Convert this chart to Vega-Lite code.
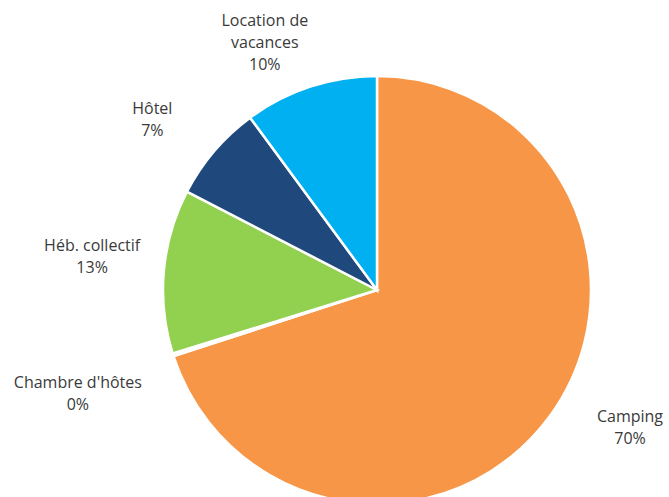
{
  "$schema": "https://vega.github.io/schema/vega-lite/v6.json",
  "width": 584,
  "height": 414,
  "autosize": "none",
  "padding": {"left": 85, "top": 83, "right": 0, "bottom": 0},
  "background": "white",
  "view": {"stroke": null},
  "config": {"text": {"font": "Open Sans", "fontSize": 16, "color": "#3a3a3a", "lineHeight": 22}},
  "data": {
    "values": [
      {"categorie": "Camping", "part": 70.0, "ordre": 1, "etiquette": "Camping\n70%"},
      {"categorie": "Chambre d'hôtes", "part": 0.2, "ordre": 2, "etiquette": "Chambre d'hôtes\n0%"},
      {"categorie": "Héb. collectif", "part": 12.4, "ordre": 3, "etiquette": "Héb. collectif\n13%"},
      {"categorie": "Hôtel", "part": 7.3, "ordre": 4, "etiquette": "Hôtel\n7%"},
      {"categorie": "Location de vacances", "part": 10.1, "ordre": 5, "etiquette": "Location de\nvacances\n10%"}
    ]
  },
  "encoding": {
    "theta": {"field": "part", "type": "quantitative", "stack": true},
    "order": {"field": "ordre", "type": "quantitative"}
  },
  "layer": [
    {
      "mark": {"type": "arc", "outerRadius": 214, "stroke": "white", "strokeWidth": 2.5},
      "encoding": {
        "color": {
          "field": "categorie",
          "type": "nominal",
          "legend": null,
          "scale": {
            "domain": ["Camping", "Chambre d'hôtes", "Héb. collectif", "Hôtel", "Location de vacances"],
            "range": ["#F79646", "#F2DCDB", "#92D050", "#1F497D", "#00B0F0"]
          }
        }
      }
    },
    {
      "mark": {"type": "text", "radius": 288, "dx": 20, "dy": -42, "lineBreak": "\n", "align": "center", "baseline": "middle"},
      "encoding": {"text": {"condition": {"test": "datum.categorie === 'Camping'", "field": "etiquette"}, "value": ""}}
    },
    {
      "mark": {"type": "text", "radius": 316, "dx": 2, "dy": -3, "lineBreak": "\n", "align": "center", "baseline": "middle"},
      "encoding": {"text": {"condition": {"test": "datum.categorie === \"Chambre d'hôtes\"", "field": "etiquette"}, "value": ""}}
    },
    {
      "mark": {"type": "text", "radius": 291, "dx": 5, "dy": -18, "lineBreak": "\n", "align": "center", "baseline": "middle"},
      "encoding": {"text": {"condition": {"test": "datum.categorie === 'Héb. collectif'", "field": "etiquette"}, "value": ""}}
    },
    {
      "mark": {"type": "text", "radius": 281, "dx": -11, "dy": 1, "lineBreak": "\n", "align": "center", "baseline": "middle"},
      "encoding": {"text": {"condition": {"test": "datum.categorie === 'Hôtel'", "field": "etiquette"}, "value": ""}}
    },
    {
      "mark": {"type": "text", "radius": 273, "dx": -27, "dy": -10, "lineBreak": "\n", "align": "center", "baseline": "middle"},
      "encoding": {"text": {"condition": {"test": "datum.categorie === 'Location de vacances'", "field": "etiquette"}, "value": ""}}
    }
  ]
}
